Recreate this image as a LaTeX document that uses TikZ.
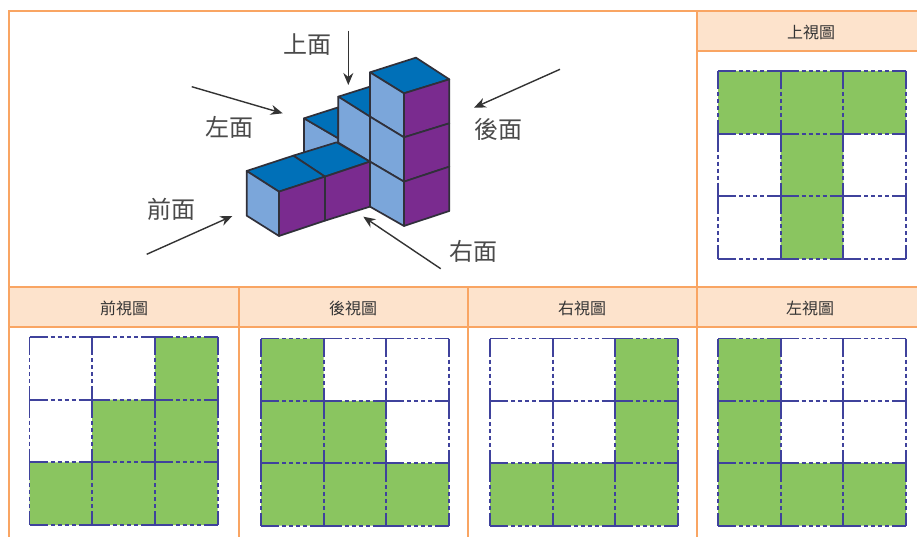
\documentclass[tikz,border=0pt]{standalone}
\usepackage{fontspec}
\newfontfamily\cjk{Noto Sans CJK TC}
\usetikzlibrary{arrows.meta}
\definecolor{orangeline}{HTML}{F9A563}
\definecolor{hdrfill}{HTML}{FDE3CC}
\definecolor{cellgreen}{HTML}{8AC560}
\definecolor{gridblue}{HTML}{3F429C}
\definecolor{facetop}{HTML}{0070B8}
\definecolor{faceleft}{HTML}{7BA6DA}
\definecolor{faceright}{HTML}{7A2B8F}
\definecolor{edgegrey}{HTML}{30303A}
\definecolor{labelgrey}{HTML}{4A4A4A}
\tikzset{
  frameline/.style={draw=orangeline,line width=1.6pt},
  frameheavy/.style={draw=orangeline,line width=2.8pt},
  hdrtext/.style={font=\cjk\fontsize{16}{16}\selectfont,text=black!80,inner sep=0pt},
  facelabel/.style={font=\cjk\fontsize{24}{24}\selectfont,text=labelgrey,inner sep=0pt},
  gridline/.style={draw=gridblue,line width=1.9pt,dash pattern=on 18pt off 3pt on 4pt off 3pt on 4pt off 3pt on 4pt off 3pt on 4pt off 3pt on 13.7pt off 0pt},
  greencell/.style={fill=cellgreen},
  cubeface/.style={draw=edgegrey,line width=1.7pt,line join=round},
  viewarrow/.style={draw=black!80,line width=1.4pt,-{Stealth[length=12pt,width=10pt]}},
}
\newcommand{\viewlines}{%
  \foreach \i in {0,1,2,3} {
    \draw[gridline] (\i*62.7,0) -- (\i*62.7,188);
    \draw[gridline] (0,\i*62.7) -- (188,\i*62.7);
  }%
}
\begin{document}
\begin{tikzpicture}[x=1pt,y=-1pt]
\useasboundingbox (0,0) rectangle (917,537);
\fill[white] (0,0) rectangle (917,537);
% header bands
\fill[hdrfill] (697,11) rectangle (917,51);
\fill[hdrfill] (9,287) rectangle (917,327);
% frame
\draw[frameline] (697,51) -- (917,51);
\draw[frameline] (9,287) -- (917,287);
\draw[frameline] (9,327) -- (917,327);
\draw[frameline] (697,11) -- (697,537);
\draw[frameline] (239,287) -- (239,537);
\draw[frameline] (468,287) -- (468,537);
\draw[frameheavy] (917,11) -- (9,11) -- (9,537);
% header text
\node[hdrtext] (hTop) at (811,32) {上視圖};
\node[hdrtext] (hFront) at (124,308) {前視圖};
\node[hdrtext] (hBack) at (353,308) {後視圖};
\node[hdrtext] (hRight) at (582,308) {右視圖};
\node[hdrtext] (hLeft) at (810,308) {左視圖};
% top view
\begin{scope}[shift={(718,71)}]
\fill[greencell] (0,0) rectangle (188,63) (62.7,63) rectangle (125.3,188);
\viewlines
\end{scope}
% front view
\begin{scope}[shift={(29.5,337)}]
\fill[greencell] (125.3,0) rectangle (188,188) (62.7,62.7) rectangle (125.3,188) (0,125.3) rectangle (62.7,188);
\viewlines
\end{scope}
% back view
\begin{scope}[shift={(261,338.5)},yscale=0.995]
\fill[greencell] (0,0) rectangle (62.7,188) (62.7,62.7) rectangle (125.3,188) (125.3,125.3) rectangle (188,188);
\viewlines
\end{scope}
% right view
\begin{scope}[shift={(490,338.5)},yscale=0.995]
\fill[greencell] (125.3,0) rectangle (188,188) (0,125.3) rectangle (125.3,188);
\viewlines
\end{scope}
% left view
\begin{scope}[shift={(718,338.5)},yscale=0.995]
\fill[greencell] (0,0) rectangle (62.7,188) (62.7,125.3) rectangle (188,188);
\viewlines
\end{scope}
% cubes (back to front), zoom coordinates
\begin{scope}[shift={(130,10)},x=0.3333pt,y=-0.3333pt]
% third step
\path[cubeface,fill=faceleft] (522,325) -- (625,385) -- (625,400) -- (522,435) -- cycle;
\path[cubeface,fill=facetop] (522,325) -- (625,292) -- (625,385) -- cycle;
% second step
\path[cubeface,fill=facetop] (625,260) -- (720,230) -- (720,320) -- cycle;
\path[cubeface,fill=faceleft] (625,260) -- (720,320) -- (720,455) -- (625,398) -- cycle;
% tall column
\path[cubeface,fill=facetop] (720,187) -- (858,143) -- (958,208) -- (822,250) -- cycle;
\path[cubeface,fill=faceleft] (720,187) -- (822,250) -- (822,382) -- (720,320) -- cycle;
\path[cubeface,fill=faceleft] (720,320) -- (822,382) -- (822,515) -- (720,455) -- cycle;
\path[cubeface,fill=faceleft] (720,455) -- (822,515) -- (822,648) -- (720,590) -- cycle;
\path[cubeface,fill=faceright] (822,250) -- (958,208) -- (958,340) -- (822,382) -- cycle;
\path[cubeface,fill=faceright] (822,382) -- (958,340) -- (958,470) -- (822,515) -- cycle;
\path[cubeface,fill=faceright] (822,515) -- (958,470) -- (958,603) -- (822,648) -- cycle;
% low row
\path[cubeface,fill=facetop] (490,437) -- (620,397) -- (720,455) -- (585,500) -- cycle;
\path[cubeface,fill=facetop] (350,483) -- (490,437) -- (585,500) -- (447,545) -- cycle;
\path[cubeface,fill=faceleft] (350,483) -- (447,545) -- (447,678) -- (350,617) -- cycle;
\path[cubeface,fill=faceright] (585,500) -- (720,455) -- (720,590) -- (585,632) -- cycle;
\path[cubeface,fill=faceright] (447,545) -- (585,500) -- (585,632) -- (447,678) -- cycle;
\end{scope}
% face labels
\node[facelabel] (lTop) at (307.5,45) {上面};
\node[facelabel] (lLeft) at (229,127.5) {左面};
\node[facelabel] (lBack) at (498.5,129.5) {後面};
\node[facelabel] (lFront) at (171.5,209) {前面};
\node[facelabel] (lRight) at (473.5,251) {右面};
% arrows
\coordinate (aTopS) at (348.3,30.7);
\coordinate (aTopE) at (348.3,85);
\coordinate (aLeftS) at (191.7,86.7);
\coordinate (aLeftE) at (282.7,113.3);
\coordinate (aBackS) at (560,69.3);
\coordinate (aBackE) at (474,107.7);
\coordinate (aFrontS) at (146.7,254.3);
\coordinate (aFrontE) at (232.3,216);
\coordinate (aRightS) at (440.7,268.7);
\coordinate (aRightE) at (363.3,216.7);
\draw[viewarrow] (aTopS) -- (aTopE);
\draw[viewarrow] (aLeftS) -- (aLeftE);
\draw[viewarrow] (aBackS) -- (aBackE);
\draw[viewarrow] (aFrontS) -- (aFrontE);
\draw[viewarrow] (aRightS) -- (aRightE);
\end{tikzpicture}
\end{document}
